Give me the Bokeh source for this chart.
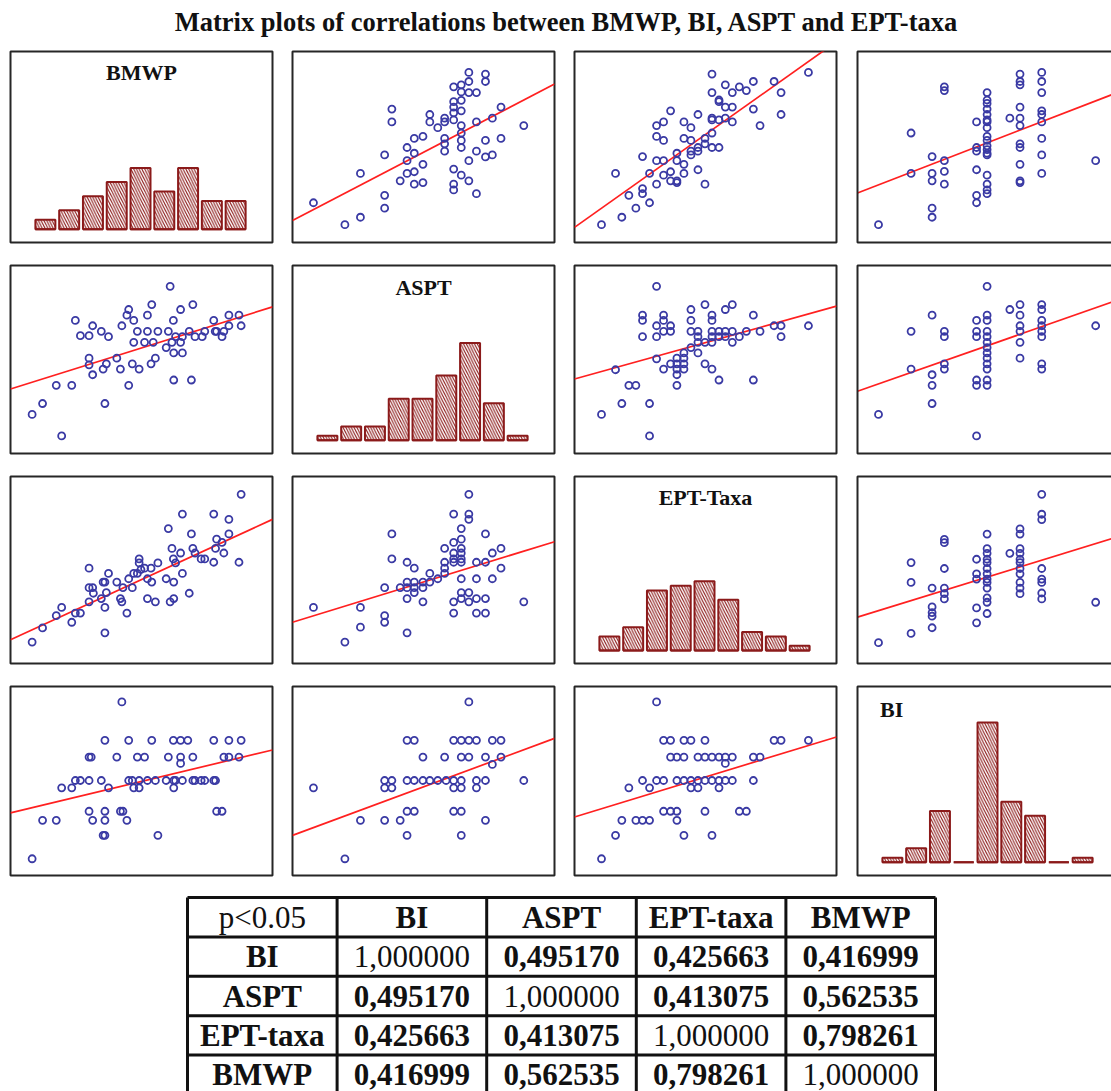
from bokeh.plotting import figure
from bokeh.models import Range1d, Div
from bokeh.layouts import column, row
from bokeh.embed import file_html
from bokeh.resources import INLINE
from bokeh.core.properties import value

# ---------------- data ----------------
VARS = ["BMWP", "ASPT", "EPT-Taxa", "BI"]
TITLE = "Matrix plots of correlations between BMWP, BI, ASPT and EPT-taxa"

HIST_BINS = [1, 2, 3, 4, 5, 6, 7, 8, 9]
bmwp_counts = [2, 4, 7, 10, 13, 8, 13, 6, 6]
aspt_counts = [1, 3, 3, 9, 9, 14, 21, 8, 1]
ept_counts = [3, 5, 13, 14, 15, 11, 4, 3, 1]
bi_counts = [1, 3, 11, 0, 30, 13, 10, 0, 1]

# scatter readings (scaled units; panel axis limits below)
bmwp_aspt_x = [58,145,188,188,255,255,255,275,275,298,317,317,317,337,337,337,337,361,361,361,380,380,402,421,421,421,421,421,446,446,446,446,446,446,446,446,467,467,467,467,467,467,467,467,467,488,488,488,488,488,509,509,509,509,534,534,534,534,553,553,577,577,640]
bmwp_aspt_y = [118,53,75,205,260,140,102,396,358,183,282,243,205,309,265,210,173,315,232,178,380,358,341,369,358,309,293,271,462,418,402,385,364,218,173,156,468,447,422,391,347,325,303,282,200,505,478,445,243,183,445,358,271,145,500,478,303,254,369,260,402,309,347]

bmwp_ept_x = [77,117,135,155,175,194,194,194,214,214,234,234,234,234,254,254,254,254,274,274,274,292,292,292,292,312,312,312,312,332,332,332,332,352,352,352,352,372,372,372,392,392,392,392,392,392,412,412,412,412,430,430,430,450,450,450,470,490,510,510,529,569,589,589,667]
bmwp_ept_y = [53,205,75,140,102,255,160,145,205,118,347,315,243,173,358,303,243,200,391,210,183,265,243,183,178,358,309,232,205,341,303,271,260,380,282,271,216,309,293,173,500,445,369,364,325,282,423,418,364,282,468,402,369,445,402,358,462,451,478,396,347,478,445,380,505]

bmwp_bi_x = [60,153,153,213,213,213,213,213,248,248,248,248,248,340,340,340,340,340,340,370,370,370,370,370,370,370,370,370,370,370,370,370,370,370,370,370,370,435,464,464,464,464,464,464,464,464,464,464,464,526,526,526,526,526,526,526,526,526,680]
bmwp_bi_y = [53,325,205,255,205,183,102,75,462,451,243,211,173,358,282,271,216,140,118,445,423,413,396,380,364,358,341,315,303,287,276,265,260,200,173,156,145,369,500,478,468,402,369,347,293,282,232,183,178,505,478,445,391,380,358,309,260,205,243]

aspt_bmwp_x = [60,89,127,142,170,180,194,218,218,218,228,228,252,257,262,266,272,295,305,309,323,328,328,338,342,342,352,357,372,380,380,390,392,396,402,409,432,438,443,448,452,453,453,458,472,472,477,477,496,502,506,512,532,539,564,568,572,587,592,606,606,634,640]
aspt_bmwp_y = [118,151,206,53,206,402,356,356,288,268,386,238,369,255,151,271,353,288,255,386,418,435,206,271,402,336,369,255,336,418,369,271,450,336,288,369,320,369,505,336,402,304,222,353,435,336,353,304,369,222,450,353,353,369,402,369,369,353,369,418,386,418,386]

aspt_ept_x = [77,117,135,155,175,194,194,194,214,214,234,234,234,234,254,254,254,254,274,274,274,292,292,292,292,292,312,312,312,312,332,332,332,332,352,352,352,352,372,372,372,392,392,392,392,392,392,412,412,412,430,430,430,450,450,450,470,490,510,510,529,569,589,589,667]
aspt_ept_y = [118,253,151,206,206,418,402,353,151,53,505,386,353,286,418,402,369,255,386,369,271,288,271,255,238,206,304,288,271,255,435,402,369,320,369,353,336,304,450,336,271,418,402,369,353,336,255,369,353,222,435,369,353,450,369,336,353,369,418,222,369,386,386,353,386]

aspt_bi_x = [60,153,153,213,213,213,213,248,248,248,248,340,340,340,340,340,340,370,370,370,370,370,370,370,370,370,370,370,370,370,435,464,464,464,464,464,464,526,526,526,526,526,526,526,526,680]
aspt_bi_y = [118,369,255,418,238,206,151,369,353,271,255,402,369,353,222,206,53,505,418,402,369,353,336,320,304,288,271,255,222,206,435,450,418,386,369,336,288,450,435,402,386,369,353,271,255,386]

ept_bmwp_x = [60,89,127,142,170,180,194,218,218,218,228,230,252,257,262,262,262,266,272,295,305,309,312,323,328,338,342,352,357,357,362,372,380,380,390,392,402,409,432,438,443,448,452,453,453,458,472,477,477,496,502,506,512,529,539,564,564,569,572,587,592,606,606,634,640]
ept_bmwp_y = [65,108,145,170,125,153,153,289,230,187,230,213,197,247,247,170,93,215,273,247,197,187,230,153,257,230,273,273,317,305,285,289,257,197,289,247,187,305,257,409,187,349,317,247,197,305,335,453,273,213,393,349,335,317,317,453,307,349,377,367,335,437,393,307,513]

ept_aspt_x = [58,145,188,188,255,255,255,275,275,298,317,317,317,317,317,337,337,337,337,361,361,361,380,380,402,421,421,421,421,446,446,446,446,446,446,446,467,467,467,467,467,467,467,467,467,488,488,488,488,488,509,509,509,509,534,534,534,534,553,553,577,577,640]
ept_aspt_y = [170,65,170,110,230,145,125,393,317,230,307,247,230,197,93,289,247,230,215,247,230,187,273,247,257,349,307,289,273,453,367,335,317,307,187,153,409,377,349,335,317,307,257,215,197,513,453,437,215,187,307,257,197,153,393,307,197,153,335,257,349,289,187]

ept_bi_x = [60,153,153,153,213,213,213,213,213,248,248,248,248,248,248,340,340,340,340,340,370,370,370,370,370,370,370,370,370,370,370,370,370,435,464,464,464,464,464,464,464,464,464,464,464,526,526,526,526,526,526,526,526,680]
ept_bi_y = [63,305,245,91,228,171,154,143,108,375,365,287,228,211,195,315,271,255,168,123,391,347,333,315,305,287,271,255,245,228,198,185,151,333,407,391,347,333,315,305,287,271,245,228,211,511,451,435,287,255,245,213,195,185]

bi_bmwp_x = [60,89,127,142,170,180,194,218,218,218,224,228,252,257,262,262,262,262,272,295,305,309,312,323,328,328,338,342,352,357,357,372,380,392,402,409,432,438,452,453,453,458,472,472,472,477,492,506,506,512,529,539,564,564,569,572,587,592,606,606,634,640]
bi_bmwp_y = [50,165,165,262,262,284,284,354,192,284,354,165,284,120,404,192,165,120,262,354,192,519,192,165,404,284,284,262,354,284,262,354,284,404,284,120,284,354,404,284,262,284,404,354,335,284,404,354,284,284,284,284,404,284,284,192,192,354,404,354,354,404]

bi_aspt_x = [58,145,188,255,255,255,275,275,298,317,317,317,317,337,337,337,361,361,380,402,421,425,446,446,446,446,467,467,467,467,467,467,488,488,488,509,509,509,534,534,534,553,553,577,577,640]
bi_aspt_y = [262,50,165,284,262,165,284,262,165,404,284,192,120,404,284,192,354,284,284,284,354,284,404,284,262,192,404,354,284,262,192,120,519,404,354,404,284,262,354,284,165,404,332,404,354,284]

bi_ept_x = [77,117,135,155,175,194,194,214,214,234,234,254,254,254,274,274,274,292,292,292,292,312,312,312,312,332,332,332,352,352,352,372,372,372,372,392,392,392,412,412,412,430,430,430,450,450,470,490,510,510,529,569,589,667]
bi_ept_y = [50,120,165,262,165,165,284,165,262,519,284,404,284,192,404,354,192,354,284,192,165,404,354,284,120,404,284,262,354,284,262,404,354,284,192,354,284,120,354,284,262,354,335,284,354,284,192,192,354,284,354,404,404,404]

# panel axis limits (x max, y max) and fitted line (intercept, slope) as read
PANELS = {
    (0, 1): (bmwp_aspt_x, bmwp_aspt_y, 725, 567, 65, 0.559),
    (0, 2): (bmwp_ept_x, bmwp_ept_y, 747, 567, 45, 0.738),
    (0, 3): (bmwp_bi_x, bmwp_bi_y, 748, 567, 147, 0.402),
    (1, 0): (aspt_bmwp_x, aspt_bmwp_y, 727, 568, 195, 0.341),
    (1, 2): (aspt_ept_x, aspt_ept_y, 747, 568, 225, 0.295),
    (1, 3): (aspt_bi_x, aspt_bi_y, 748, 568, 188, 0.371),
    (2, 0): (ept_bmwp_x, ept_bmwp_y, 727, 567, 72, 0.502),
    (2, 1): (ept_aspt_x, ept_aspt_y, 725, 567, 125, 0.337),
    (2, 3): (ept_bi_x, ept_bi_y, 748, 565, 140, 0.327),
    (3, 0): (bi_bmwp_x, bi_bmwp_y, 727, 565, 187, 0.259),
    (3, 1): (bi_aspt_x, bi_aspt_y, 725, 565, 120, 0.400),
    (3, 2): (bi_ept_x, bi_ept_y, 747, 565, 175, 0.320),
}
HISTS = {0: bmwp_counts, 1: aspt_counts, 2: ept_counts, 3: bi_counts}

# correlation table
TABLE_HEAD = ["p<0.05", "BI", "ASPT", "EPT-taxa", "BMWP"]
TABLE_ROWS = ["BI", "ASPT", "EPT-taxa", "BMWP"]
corr_bi = [1.000000, 0.495170, 0.425663, 0.416999]
corr_aspt = [0.495170, 1.000000, 0.413075, 0.562535]
corr_ept = [0.425663, 0.413075, 1.000000, 0.798261]
corr_bmwp = [0.416999, 0.562535, 0.798261, 1.000000]
CORR = [corr_bi, corr_aspt, corr_ept, corr_bmwp]

# ---------------- style / layout ----------------
SERIF = "Liberation Serif"
DARK_RED = "#8b1a1a"
BLUE = "#3a3aa4"
RED = "#ff2020"
FRAME_C = "#262626"

PAGE_W = 1111
TITLE_H = 38
COL_FIG_W = [290, 282, 282, 257]
COL_BL = [10, 2, 2, 3]
COL_BR = [18, 18, 18, 0]
COL_FRAME_W = [262, 262, 262, 254]
ROW_BOUNDS = [38, 254, 465, 675, 886]          # page y of figure edges
ROW_FRAMES = [(51, 242), (265, 453), (476, 663), (686, 875)]


def make_fig(r, c, xr, yr):
    top_b = ROW_FRAMES[r][0] - ROW_BOUNDS[r]
    bot_b = ROW_BOUNDS[r + 1] - ROW_FRAMES[r][1]
    h = ROW_BOUNDS[r + 1] - ROW_BOUNDS[r]
    p = figure(width=COL_FIG_W[c], height=h, x_range=xr, y_range=yr,
               x_axis_type=None, y_axis_type=None, toolbar_location=None,
               output_backend="svg",
               min_border_left=COL_BL[c], min_border_right=COL_BR[c],
               min_border_top=top_b, min_border_bottom=bot_b)
    p.background_fill_color = "white"
    p.border_fill_color = "white"
    if c < 3:
        p.outline_line_color = FRAME_C
        p.outline_line_width = 2
    else:
        # right edge of the last column is cut off by the page: draw three sides only
        p.outline_line_color = None
        far = xr.end + (xr.end - xr.start)
        p.line([far, xr.start, xr.start, far], [yr.end, yr.end, yr.start, yr.start],
               line_color=FRAME_C, line_width=2, level="overlay")
    return p


def scatter_panel(r, c):
    xs, ys, W, H, a, b = PANELS[(r, c)]
    vis = COL_FRAME_W[c] / 262.0
    xend = W * vis
    p = make_fig(r, c, Range1d(0, xend), Range1d(0, H))
    p.line([0, xend], [a, a + b * xend], line_color=RED, line_width=1.7)
    p.scatter(xs, ys, marker="circle", size=7, fill_color=None,
              line_color=BLUE, line_width=1.8)
    return p


HX0, HX1 = -0.467, 10.55
HY0, HY1 = -2.83, 37.7
LABEL_POS = {0: (0.50, 0.89, "center"), 1: (0.50, 0.885, "center"),
             2: (0.50, 0.89, "center"), 3: (0.086, 0.877, "left")}


def hist_panel(i):
    vis = COL_FRAME_W[i] / 262.0
    xend = HX0 + (HX1 - HX0) * vis
    p = make_fig(i, i, Range1d(HX0, xend), Range1d(HY0, HY1))
    counts = HISTS[i]
    p.vbar(x=HIST_BINS, top=counts, bottom=0, width=0.84,
           fill_color="white", line_color=DARK_RED, line_width=2,
           hatch_pattern="\\", hatch_color=DARK_RED, hatch_scale=5.5, hatch_weight=1.1)
    p.segment(x0=[b - 0.42 for b in HIST_BINS], x1=[b + 0.42 for b in HIST_BINS],
              y0=[0] * len(HIST_BINS), y1=[0] * len(HIST_BINS),
              line_color=DARK_RED, line_width=2)
    fx, fy, al = LABEL_POS[i]
    p.text(x=[HX0 + fx * (HX1 - HX0)], y=[HY0 + fy * (HY1 - HY0)], text=[VARS[i]],
           text_font=value(SERIF), text_font_style="bold", text_font_size="22px",
           text_align=al, text_baseline="middle", text_color="#111111")
    return p


# title
title_div = Div(
    text=('<div style="font-family:\'Liberation Serif\',serif;font-weight:bold;font-size:26.5px;'
          'color:#111;text-align:center;white-space:nowrap;line-height:44px;'
          'width:1111px;padding-left:21px;box-sizing:border-box;">' + TITLE + '</div>'),
    width=PAGE_W, height=TITLE_H, styles={"overflow": "visible", "margin": "0"})

rows = []
for r in range(4):
    figs = []
    for c in range(4):
        figs.append(hist_panel(r) if r == c else scatter_panel(r, c))
    rows.append(row(*figs, spacing=0))

# table
TB_TOP = ROW_BOUNDS[4]
TB_ROW = 39.4
TB_COL = 149.6
tb = figure(width=PAGE_W, height=1091 - TB_TOP,
            x_range=Range1d(-3 / TB_COL, 5 + 3 / TB_COL),
            y_range=Range1d(5 - (1091 - 897) / TB_ROW, 5 + 3 / TB_ROW),
            x_axis_type=None, y_axis_type=None, toolbar_location=None, output_backend="svg",
            min_border_left=184, min_border_right=PAGE_W - 184 - 754,
            min_border_top=894 - TB_TOP, min_border_bottom=0)
tb.outline_line_color = None
n = 5
tb.segment(x0=list(range(n + 1)), x1=list(range(n + 1)), y0=[0] * (n + 1), y1=[n] * (n + 1),
           line_color="#111111", line_width=3)
tb.segment(x0=[0] * (n + 1), x1=[n] * (n + 1), y0=list(range(n + 1)), y1=list(range(n + 1)),
           line_color="#111111", line_width=3)

bold_x, bold_y, bold_t = [], [], []
norm_x, norm_y, norm_t = [], [], []
for j, h in enumerate(TABLE_HEAD):
    (norm_x if j == 0 else bold_x).append(j + 0.5)
    (norm_y if j == 0 else bold_y).append(4.5)
    (norm_t if j == 0 else bold_t).append(h)
for i, name in enumerate(TABLE_ROWS):
    yy = 3.5 - i
    bold_x.append(0.5); bold_y.append(yy); bold_t.append(name)
    for j, v in enumerate(CORR[i]):
        s = f"{v:.6f}".replace(".", ",")
        if i == j:
            norm_x.append(j + 1.5); norm_y.append(yy); norm_t.append(s)
        else:
            bold_x.append(j + 1.5); bold_y.append(yy); bold_t.append(s)
tb.text(x=bold_x, y=bold_y, text=bold_t, text_font=value(SERIF), text_font_style="bold",
        text_font_size="31px", text_align="center", text_baseline="middle", text_color="#111111")
tb.text(x=norm_x, y=norm_y, text=norm_t, text_font=value(SERIF), text_font_style="normal",
        text_font_size="31px", text_align="center", text_baseline="middle", text_color="#111111")

layout = column(title_div, *rows, tb, spacing=0)
open("out.html", "w").write(file_html(layout, INLINE))
